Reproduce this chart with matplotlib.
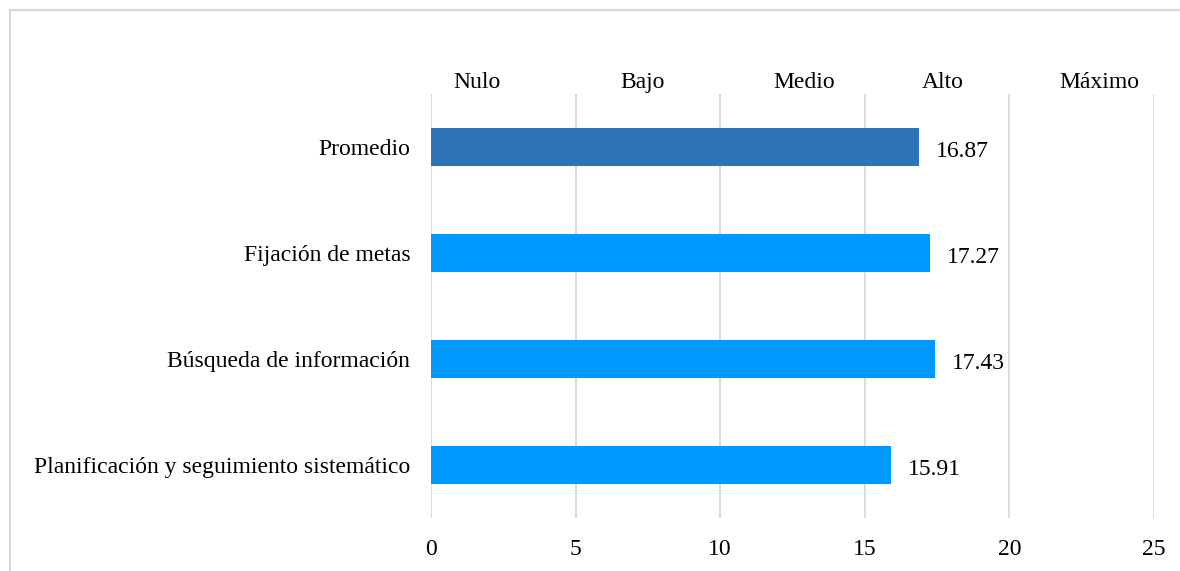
import matplotlib
matplotlib.use("Agg")
import matplotlib.pyplot as plt
from matplotlib.patches import Rectangle

plt.rcParams['font.family'] = ['Liberation Serif', 'DejaVu Serif']

# data
categories = ["Planificación y seguimiento sistemático", "Búsqueda de información",
              "Fijación de metas", "Promedio"]
values = [15.91, 17.43, 17.27, 16.87]
levels = ["Nulo", "Bajo", "Medio", "Alto", "Máximo"]
xticks = [0, 5, 10, 15, 20, 25]

bar_colors = ["#0099FF", "#0099FF", "#0099FF", "#2E75B6"]
level_x = [1.6, 7.3, 12.9, 17.7, 23.1]
fs = 17

fig = plt.figure(figsize=(11.8, 5.71), dpi=100)
ax = fig.add_axes([431 / 1180, 53 / 571, (1154 - 431) / 1180, (518 - 94) / 571])

# outer frame of the chart area
fig.patches.append(Rectangle((10 / 1180, -0.1), 1.2, (571 - 10) / 571 + 0.1,
                             transform=fig.transFigure, fill=False,
                             edgecolor="#D9D9D9", linewidth=1.5))

y = list(range(len(categories)))
ax.barh(y, values, height=0.36, color=bar_colors, zorder=3)

for yi, v in zip(y, values):
    ax.annotate(f"{v:.2f}", (v, yi), xytext=(12, -3), textcoords="offset points",
                va="center", ha="left", fontsize=fs)

for lx, name in zip(level_x, levels):
    ax.annotate(name, (lx, 3.5), xytext=(0, 4.5), textcoords="offset points",
                ha="center", va="baseline", fontsize=fs)

ax.set_xlim(0, 25)
ax.set_ylim(-0.5, 3.5)
ax.set_xticks(xticks)
ax.set_yticks(y)
ax.set_yticklabels(categories)
ax.tick_params(axis="both", length=0, labelsize=fs)
ax.tick_params(axis="x", pad=15)
ax.tick_params(axis="y", pad=15)
ax.grid(axis="x", color="#D9D9D9", linewidth=1.3, zorder=0)
for s in ax.spines.values():
    s.set_visible(False)

fig.savefig("out.png", dpi=100)
